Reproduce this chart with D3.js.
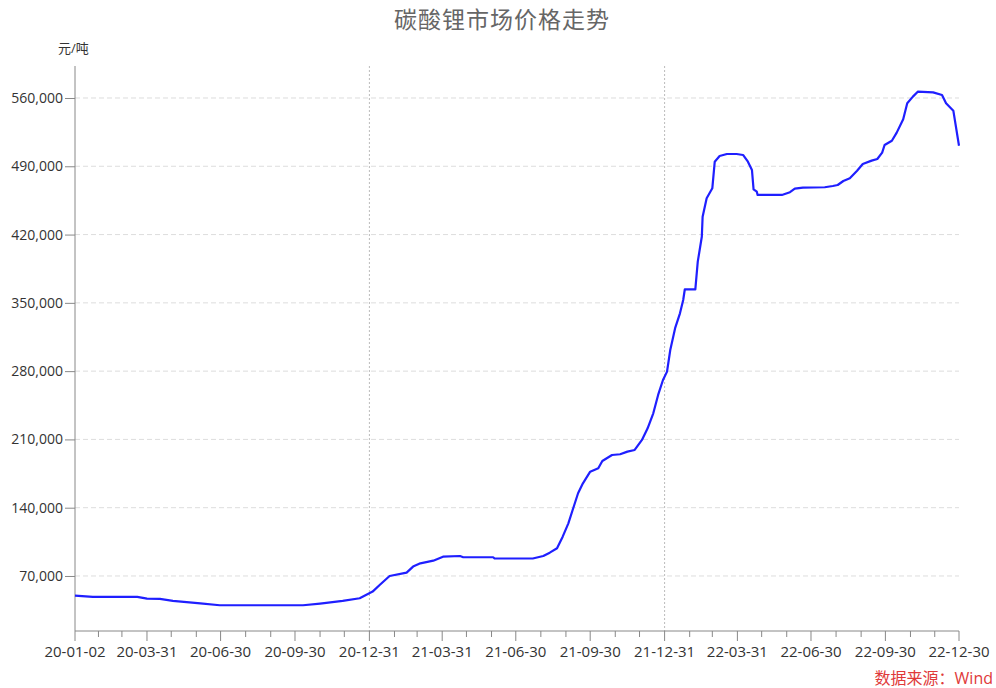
<!DOCTYPE html>
<html><head><meta charset="utf-8">
<script src="https://cdn.jsdelivr.net/npm/d3@7"></script>
<style>
html,body{margin:0;padding:0;background:#fff;}
text{font-family:"Open Sans","Noto Sans CJK SC",sans-serif;}
</style></head>
<body><svg id="c" width="996" height="688"></svg>
<script>
const title = "碳酸锂市场价格走势";
const unitLabel = "元/吨";
const sourceLabel = "数据来源：Wind";
const dates = ["2020-01-02","2020-01-24","2020-03-19","2020-03-31","2020-04-16","2020-05-02","2020-06-05","2020-06-29","2020-10-10","2020-10-31","2020-11-28","2020-12-19","2021-01-04","2021-01-13","2021-01-25","2021-02-15","2021-02-23","2021-03-04","2021-03-20","2021-04-01","2021-04-22","2021-04-26","2021-06-02","2021-06-04","2021-07-21","2021-08-03","2021-08-11","2021-08-20","2021-08-27","2021-09-03","2021-09-09","2021-09-15","2021-09-21","2021-09-30","2021-10-10","2021-10-15","2021-10-27","2021-11-06","2021-11-15","2021-11-24","2021-12-03","2021-12-10","2021-12-17","2021-12-23","2021-12-29","2022-01-03","2022-01-07","2022-01-13","2022-01-19","2022-01-23","2022-01-25","2022-02-07","2022-02-10","2022-02-15","2022-02-16","2022-02-21","2022-02-28","2022-03-03","2022-03-09","2022-03-18","2022-03-30","2022-04-07","2022-04-13","2022-04-18","2022-04-20","2022-04-24","2022-04-25","2022-05-25","2022-06-04","2022-06-10","2022-06-20","2022-07-17","2022-07-27","2022-08-02","2022-08-09","2022-08-17","2022-08-26","2022-09-02","2022-09-13","2022-09-20","2022-09-26","2022-09-29","2022-10-08","2022-10-14","2022-10-22","2022-10-27","2022-11-03","2022-11-09","2022-11-28","2022-12-09","2022-12-14","2022-12-23","2022-12-30"];
const prices = [49900,48600,48600,46800,46500,44500,42000,40000,40000,41700,44400,47200,54000,61000,70000,73400,79600,83000,85700,89800,90500,89200,89200,87900,87900,90500,93900,98400,110300,124000,139400,154800,165000,176900,180400,187900,194000,194800,197500,199200,209500,221400,236800,255600,270900,279500,301700,324000,339300,352900,363900,363900,392200,417800,438300,457200,467400,494700,500500,502600,502600,501600,494700,486200,466400,464000,460600,460600,463400,467100,468100,468500,469800,470800,474900,477700,485500,492400,495800,497500,504000,511800,516200,524500,538200,554600,561400,566500,565800,563000,554600,547000,511000];
const yTicks = [70000,140000,210000,280000,350000,420000,490000,560000];
const xTickLabels = ["20-01-02","20-03-31","20-06-30","20-09-30","20-12-31","21-03-31","21-06-30","21-09-30","21-12-31","22-03-31","22-06-30","22-09-30","22-12-30"];
const refLineLabels = ["20-12-31","21-12-31"];

const parse = d3.timeParse("%Y-%m-%d");
const parseShort = d3.timeParse("%y-%m-%d");
const data = dates.map((d,i)=>({date:parse(d), value:prices[i]}));

const svg = d3.select("#c");
const L=75, R=959, T=66, B=631;
const x = d3.scaleTime().domain([parse("2020-01-02"), parse("2022-12-30")]).range([L,R]);
const y = d3.scaleLinear().domain([13600, 592800]).range([B,T]);

// title
svg.append("text").attr("x",502).attr("y",28).attr("text-anchor","middle")
  .attr("font-size",23).attr("fill","#666").style("letter-spacing","1px").text(title);
svg.append("text").attr("x",58).attr("y",53).attr("font-size",13).attr("fill","#333").text(unitLabel);

// gridlines
svg.append("g").selectAll("line").data(yTicks).join("line")
  .attr("x1",L).attr("x2",R).attr("y1",d=>y(d)).attr("y2",d=>y(d))
  .attr("stroke","#ddd").attr("stroke-dasharray","5,3");

// reference vertical lines
svg.append("g").selectAll("line").data(refLineLabels).join("line")
  .attr("x1",d=>x(parseShort(d))).attr("x2",d=>x(parseShort(d)))
  .attr("y1",T).attr("y2",B)
  .attr("stroke","#bbb").attr("stroke-dasharray","2,2");

// y axis
const yAxis = svg.append("g").attr("transform",`translate(${L},0)`)
  .call(d3.axisLeft(y).tickValues(yTicks).tickFormat(d3.format(",")).tickSize(10).tickPadding(2));
yAxis.select(".domain").attr("d",`M0,${T}V${B}`).attr("stroke","#888");
yAxis.selectAll(".tick line").attr("stroke","#888");
yAxis.selectAll(".tick text").attr("font-size",14).attr("fill","#333").attr("font-family","'Open Sans',sans-serif");

// x axis: monthly ticks, every third labelled
const labelDates = xTickLabels.map(parseShort);
let monthTicks = [labelDates[0]];
d3.timeMonth.range(d3.timeMonth.ceil(d3.timeDay.offset(labelDates[0],1)), labelDates[labelDates.length-1])
  .forEach(m=>{ const e=d3.timeDay.offset(m,-1); if(e>labelDates[0]) monthTicks.push(e); });
monthTicks = monthTicks.filter(d=>!labelDates.some(l=>Math.abs(l-d)<86400000*2));
const xg = svg.append("g").attr("transform",`translate(0,${B})`);
xg.append("line").attr("x1",L).attr("x2",R).attr("stroke","#888");
xg.selectAll(".minor").data(monthTicks).join("line").attr("class","minor")
  .attr("x1",d=>x(d)).attr("x2",d=>x(d)).attr("y1",0).attr("y2",6).attr("stroke","#888");
xg.selectAll(".major").data(labelDates).join("line").attr("class","major")
  .attr("x1",d=>x(d)).attr("x2",d=>x(d)).attr("y1",0).attr("y2",10).attr("stroke","#888");
xg.selectAll("text").data(xTickLabels).join("text")
  .attr("x",d=>x(parseShort(d))).attr("y",26).attr("text-anchor","middle")
  .attr("font-size",15).attr("fill","#333").text(d=>d);

// line
svg.append("path").datum(data)
  .attr("d", d3.line().x(d=>x(d.date)).y(d=>y(d.value)))
  .attr("fill","none").attr("stroke","#1f1fff").attr("stroke-width",2.2).attr("stroke-linejoin","round");

// source
svg.append("text").attr("x",993).attr("y",684).attr("text-anchor","end")
  .attr("font-size",16).attr("fill","#e03a3a").text(sourceLabel);
</script></body></html>
